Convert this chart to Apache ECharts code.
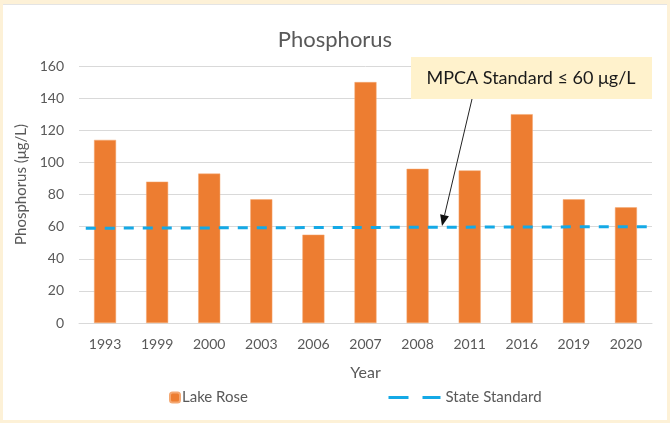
<!DOCTYPE html>
<html>
<head>
<meta charset="utf-8">
<script src="https://cdn.jsdelivr.net/npm/echarts@6/dist/echarts.min.js"></script>
<style>
  html, body { margin: 0; padding: 0; background: #fdf1d7; }
  #panel { position: absolute; left: 3px; top: 4px; width: 664px; height: 416px; background: #fff; border-top: 1px solid #e4e4e4; box-sizing: border-box; }
  #main { position: absolute; left: 0; top: 0; width: 670px; height: 423px; }
</style>
</head>
<body>
<div id="panel"></div>
<div id="main"></div>
<script>
// data
const years = ['1993', '1999', '2000', '2003', '2006', '2007', '2008', '2011', '2016', '2019', '2020']
const lakeRose = [114, 88, 93, 77, 55, 150, 96, 95, 130, 77, 72]
// state standard line, drawn against a hidden 0..11 value axis (category slots)
const standardX = [0.13, 10.98]
const standardY = [59, 60]

const font = 'Lato, "Open Sans", sans-serif'
const grey = '#595959'

const chart = echarts.init(document.getElementById('main'))

const option = {
  textStyle: { fontFamily: font },
  title: {
    text: 'Phosphorus',
    left: 'center',
    top: 24,
    textStyle: { fontFamily: font, fontSize: 22, fontWeight: 'normal', color: grey }
  },
  legend: [
    {
      data: ['Lake Rose'],
      left: 164,
      top: 385,
      itemWidth: 10,
      itemHeight: 10,
      itemGap: 4,
      textStyle: { fontSize: 15, color: grey, padding: [0, 0, 0, -3] }
    },
    {
      data: ['State Standard'],
      left: 382,
      top: 385,
      itemWidth: 52,
      itemHeight: 10,
      itemStyle: { opacity: 0 },
      lineStyle: { type: [20, 14], width: 3 },
      textStyle: { fontSize: 15, color: grey }
    }
  ],
  grid: { left: 79, right: 18, top: 66, bottom: 100 },
  xAxis: [
    {
      type: 'category',
      data: years,
      name: 'Year',
      nameLocation: 'middle',
      nameGap: 42,
      nameTextStyle: { fontSize: 16, color: grey },
      axisTick: { show: false },
      axisLine: { lineStyle: { color: '#d9d9d9', width: 1 } },
      axisLabel: { fontSize: 14, color: grey, margin: 14 }
    },
    {
      type: 'value',
      min: 0,
      max: 11,
      show: false
    }
  ],
  yAxis: {
    type: 'value',
    min: 0,
    max: 160,
    interval: 20,
    name: 'Phosphorus (μg/L)',
    nameLocation: 'middle',
    nameGap: 47,
    nameTextStyle: { fontSize: 15, color: grey, padding: [0, 0, 0, 20] },
    axisLine: { show: false },
    axisTick: { show: false },
    axisLabel: { fontSize: 14, color: grey, margin: 15 },
    splitLine: { lineStyle: { color: '#d9d9d9', width: 1 } }
  },
  series: [
    {
      name: 'Lake Rose',
      type: 'bar',
      data: lakeRose,
      barWidth: 22,
      itemStyle: { color: '#ed7d31', borderColor: '#f4a872', borderWidth: 0.5 },
      z: 2
    },
    {
      name: 'State Standard',
      type: 'line',
      xAxisIndex: 1,
      data: standardX.map((x, i) => [x, standardY[i]]),
      symbol: 'none',
      lineStyle: { color: '#14a9e6', width: 3, type: [10, 9] },
      itemStyle: { color: '#14a9e6' },
      z: 3
    }
  ]
}

chart.setOption(option)

// annotation box and arrow
const tip = [442, 226]
const tail = [472, 99]
const dx = tip[0] - tail[0], dy = tip[1] - tail[1]
const len = Math.sqrt(dx * dx + dy * dy)
const ux = dx / len, uy = dy / len
const headLen = 11, headHalf = 4.5
const bx = tip[0] - ux * headLen, by = tip[1] - uy * headLen

chart.setOption({
  graphic: [
    {
      type: 'line',
      shape: { x1: tail[0], y1: tail[1], x2: bx, y2: by },
      style: { stroke: '#222', lineWidth: 1 },
      z: 100
    },
    {
      type: 'polygon',
      shape: {
        points: [
          tip,
          [bx - uy * headHalf, by + ux * headHalf],
          [bx + uy * headHalf, by - ux * headHalf]
        ]
      },
      style: { fill: '#111' },
      z: 100
    },
    {
      type: 'group',
      left: 411,
      top: 57,
      z: 100,
      children: [
        {
          type: 'rect',
          shape: { x: 0, y: 0, width: 241, height: 42 },
          style: { fill: '#fff2cc' }
        },
        {
          type: 'text',
          x: 120,
          y: 21,
          style: {
            text: 'MPCA Standard ≤ 60 μg/L',
            fontFamily: font,
            fontSize: 18,
            fill: '#1a1a1a',
            align: 'center',
            verticalAlign: 'middle'
          }
        }
      ]
    }
  ]
})
</script>
</body>
</html>
